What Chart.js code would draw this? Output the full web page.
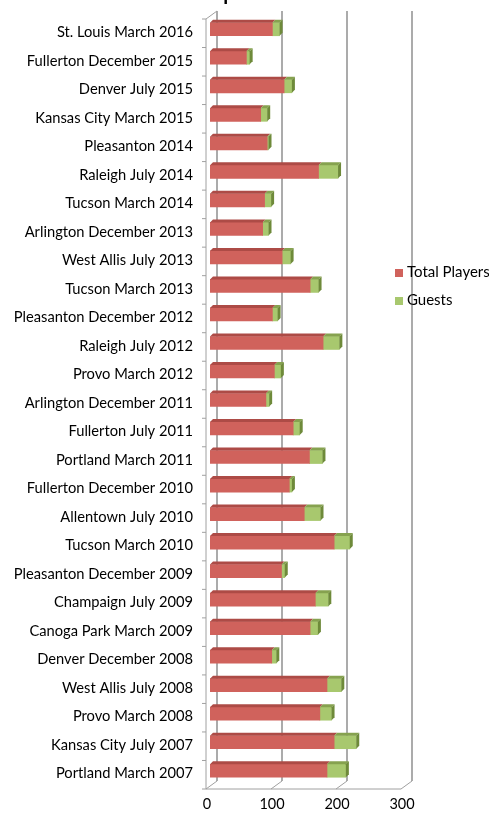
<!DOCTYPE html>
<html><head><meta charset="utf-8">
<script src="https://cdn.jsdelivr.net/npm/chart.js@4/dist/chart.umd.min.js"></script>
<style>
html,body{margin:0;padding:0;background:#fff;overflow:hidden;}
#wrap{position:relative;width:489px;height:814px;overflow:hidden;}
#title{position:absolute;left:0;top:-18px;width:430px;text-align:center;font:bold 20px Lato, sans-serif;line-height:20px;color:#000;white-space:nowrap;}
.leg{position:absolute;left:395px;font:15px Lato,sans-serif;color:#000;white-space:nowrap;line-height:16px;}
.leg span{display:inline-block;width:8px;height:8px;margin-right:4px;vertical-align:0px;}
</style></head>
<body><div id="wrap"><canvas id="c" width="489" height="814"></canvas><div id="title">Tournament Participants and Guests</div><div id="legend"></div></div>
<script>
const categories = [
 "St. Louis March 2016","Fullerton December 2015","Denver July 2015","Kansas City March 2015",
 "Pleasanton 2014","Raleigh July 2014","Tucson March 2014","Arlington December 2013",
 "West Allis July 2013","Tucson March 2013","Pleasanton December 2012","Raleigh July 2012",
 "Provo March 2012","Arlington December 2011","Fullerton July 2011","Portland March 2011",
 "Fullerton December 2010","Allentown July 2010","Tucson March 2010","Pleasanton December 2009",
 "Champaign July 2009","Canoga Park March 2009","Denver December 2008","West Allis July 2008",
 "Provo March 2008","Kansas City July 2007","Portland March 2007"
];
const totalPlayers = [96,56,114,78,88,167,84,81,111,154,96,174,99,86,128,153,122,145,191,110,162,154,95,180,169,191,180];
const guests       = [11,5,12,10,2,30,10,9,13,13,8,25,10,5,10,20,4,25,24,5,20,12,7,22,18,34,29];
const seriesNames = ["Total Players","Guests"];
const xTicks = [0,100,200,300];

const frontColors = ["#D0625C","#A8C86E"];
const topColors   = ["#AD4B46","#86A24F"];
const sideColor   = "#6E8A3A";

// HTML legend
const legendEl = document.getElementById('legend');
const legTops = [263, 291];
seriesNames.forEach((n,i)=>{
  const d=document.createElement('div'); d.className='leg'; d.style.top=legTops[i]+'px';
  d.innerHTML='<span style="background:'+frontColors[i]+'"></span>'+n;
  legendEl.appendChild(d);
});

const F={dx:-4,dy:4}, B={dx:7,dy:-4};
function line(ctx,x1,y1,x2,y2){ctx.beginPath();ctx.moveTo(x1,y1);ctx.lineTo(x2,y2);ctx.stroke();}
const depth = {
  id:'depth3d',
  beforeDatasetsDraw(chart){
    const ctx=chart.ctx, xs=chart.scales.x, a=chart.chartArea;
    ctx.save();
    ctx.lineWidth=2; ctx.strokeStyle='#ababab';
    xTicks.forEach(v=>{
      const x=xs.getPixelForValue(v);
      line(ctx,x+B.dx,a.top+B.dy,x+B.dx,a.bottom+B.dy);
    });
    ctx.lineWidth=1; ctx.strokeStyle='#a0a0a0';
    xTicks.forEach(v=>{
      const x=xs.getPixelForValue(v);
      line(ctx,x+F.dx,a.bottom+F.dy,x+B.dx,a.bottom+B.dy);
    });
    const x0=xs.getPixelForValue(xTicks[0]), x3=xs.getPixelForValue(xTicks[xTicks.length-1]);
    line(ctx,x0+F.dx,a.bottom+F.dy,x3+F.dx,a.bottom+F.dy);
    line(ctx,x0+F.dx,a.top+F.dy,x0+F.dx,a.bottom+F.dy);
    line(ctx,x0+F.dx,a.top+F.dy,x0+B.dx,a.top+B.dy);
    const n=categories.length, step=(a.bottom-a.top)/n;
    for(let i=0;i<=n;i++){
      const y=a.top+i*step+F.dy;
      line(ctx,x0+F.dx-4,y,x0+F.dx,y);
    }
    ctx.restore();
  },
  afterDatasetsDraw(chart){
    const ctx=chart.ctx, d=3;
    ctx.save();
    chart.data.datasets.forEach((ds,di)=>{
      const meta=chart.getDatasetMeta(di);
      meta.data.forEach((el,i)=>{
        const p=el.getProps(['x','y','base','height'],true);
        const l=Math.min(p.x,p.base), r=Math.max(p.x,p.base), t=p.y-p.height/2, h=p.height;
        if(r-l<0.01) return;
        ctx.fillStyle=topColors[di];
        ctx.beginPath();ctx.moveTo(l,t);ctx.lineTo(l+d,t-d);ctx.lineTo(r+d,t-d);ctx.lineTo(r,t);ctx.closePath();ctx.fill();
        if(di===chart.data.datasets.length-1){
          ctx.fillStyle=sideColor;
          ctx.beginPath();ctx.moveTo(r,t);ctx.lineTo(r+d,t-d);ctx.lineTo(r+d,t-d+h);ctx.lineTo(r,t+h);ctx.closePath();ctx.fill();
        }
      });
    });
    ctx.restore();
  }
};

new Chart(document.getElementById('c'),{
  type:'bar',
  data:{
    labels:categories,
    datasets:[
      {label:seriesNames[0],data:totalPlayers,backgroundColor:frontColors[0],barThickness:13,borderWidth:0},
      {label:seriesNames[1],data:guests,backgroundColor:frontColors[1],barThickness:13,borderWidth:0}
    ]
  },
  plugins:[depth],
  options:{
    indexAxis:'y',
    responsive:false,
    animation:false,
    layout:{padding:{top:15,right:84,left:0,bottom:0}},
    plugins:{legend:{display:false},tooltip:{enabled:false},title:{display:false}},
    scales:{
      x:{stacked:true,min:0,max:300,
        afterBuildTicks(s){s.ticks=xTicks.map(v=>({value:v}));},
        afterFit(s){s.height=29;s.paddingLeft=0;s.paddingRight=0;},
        grid:{display:false,drawTicks:false},border:{display:false},
        ticks:{color:'#000',font:{family:'Lato',size:14.5},padding:11,labelOffset:-3}
      },
      y:{stacked:true,
        afterFit(s){s.width=210;s.paddingTop=0;s.paddingBottom=0;},
        grid:{display:false,drawTicks:false},border:{display:false},
        ticks:{color:'#000',font:{family:'Lato',size:14.7},padding:17,labelOffset:3,autoSkip:false}
      }
    }
  }
});
</script>
</body></html>
